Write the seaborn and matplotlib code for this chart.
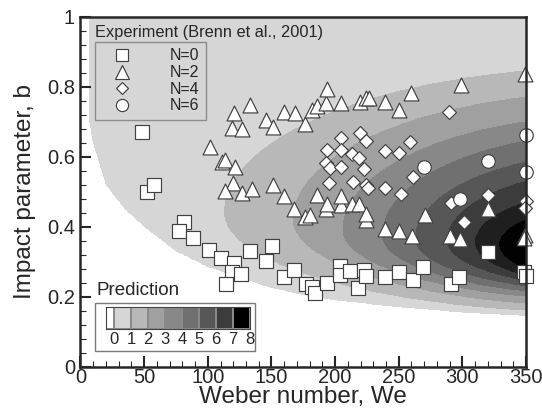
import numpy as np
import pandas as pd
import seaborn as sns
import matplotlib.pyplot as plt
from matplotlib.colors import ListedColormap, BoundaryNorm
from matplotlib.patches import Rectangle
from matplotlib.lines import Line2D
from matplotlib.ticker import MultipleLocator

we_n0 = [48, 52, 58, 81, 77, 88, 101, 110, 120.5, 119, 126, 114, 133.5, 150.5, 145.5,
         160, 168, 177, 182, 184, 194, 204, 204, 212, 218, 223, 224.5, 239, 250.5, 261,
         269, 291, 297.5, 320, 348.5, 350]
b_n0 = [0.67, 0.50, 0.52, 0.415, 0.388, 0.368, 0.334, 0.31, 0.297, 0.27, 0.266, 0.236, 0.33,
        0.344, 0.302, 0.258, 0.276, 0.237, 0.228, 0.212, 0.24, 0.288, 0.262, 0.273, 0.226,
        0.276, 0.26, 0.256, 0.27, 0.249, 0.286, 0.238, 0.256, 0.327, 0.27, 0.26]

we_n2 = [101.5, 111, 113.8, 121.5, 120, 113.8, 126.5, 135, 120.5, 119, 126.5, 133, 145.5,
         151, 160, 168.5, 176, 181.5, 185.5, 192.5, 193.5, 205, 219.5, 224.5, 227, 239.3,
         250, 260, 298.8, 349.5, 151.5, 159.8, 167.7, 176.4, 180.4, 186, 192.7, 194, 205,
         205, 213.2, 219, 224, 224.5, 239, 250.5, 260.5, 270.8, 290.5, 298.3, 320, 349.2,
         348.4]
b_n2 = [0.627, 0.586, 0.591, 0.572, 0.526, 0.502, 0.496, 0.507, 0.726, 0.681, 0.679, 0.747,
        0.705, 0.686, 0.728, 0.725, 0.694, 0.732, 0.744, 0.754, 0.794, 0.753, 0.757, 0.767,
        0.767, 0.757, 0.734, 0.782, 0.806, 0.837, 0.52, 0.488, 0.45, 0.427, 0.435, 0.49,
        0.452, 0.466, 0.463, 0.487, 0.466, 0.465, 0.42, 0.437, 0.393, 0.387, 0.373, 0.435,
        0.374, 0.365, 0.45, 0.377, 0.368]

we_n4 = [194, 205, 204.5, 219.5, 224.5, 239.2, 250, 259, 289.8, 192.7, 196, 204.7, 213.3,
         218.7, 222.7, 194.9, 214.3, 224.5, 226, 239, 251.5, 261, 290.8, 301.2, 320, 350,
         349.2]
b_n4 = [0.62, 0.654, 0.62, 0.668, 0.645, 0.617, 0.612, 0.641, 0.728, 0.583, 0.568, 0.57,
        0.609, 0.597, 0.566, 0.526, 0.527, 0.518, 0.512, 0.51, 0.494, 0.542, 0.469, 0.415,
        0.49, 0.474, 0.455]

we_n6 = [269.5, 320.2, 298.3, 350, 350]
b_n6 = [0.57, 0.587, 0.478, 0.662, 0.556]

# Predicted number of satellites: band edges
band_levels = [1, 2, 3, 4, 5, 6, 7, 8]
band_tip_we = [113, 167, 206, 237, 263, 288, 310, 329]
band_tip_b = [0.44, 0.42, 0.39, 0.375, 0.365, 0.36, 0.355, 0.35]
band_top_b = [0.845, 0.77, 0.70, 0.645, 0.585, 0.53, 0.47, 0.42]   # at We = 350
band_low_b = [0.16, 0.18, 0.20, 0.215, 0.23, 0.245, 0.26, 0.28]   # at We = 350
# lower edge of the predicted region (white below it)
edge_we = [7, 10, 20, 35, 50, 75, 100, 125, 150, 175, 200, 250, 300, 350]
edge_b = [0.70, 0.64, 0.52, 0.45, 0.40, 0.33, 0.285, 0.255, 0.225, 0.205, 0.19, 0.17, 0.155, 0.145]

greys = ['#ffffff', '#d6d6d6', '#b8b8b8', '#a0a0a0', '#888888', '#707070',
         '#575757', '#3c3c3c', '#1f1f1f', '#020202']

sns.set_style("ticks")
plt.rcParams['font.family'] = ['Liberation Sans', 'DejaVu Sans']

fig = plt.figure(figsize=(5.42, 4.08), dpi=100)
ax = fig.add_axes([0.1485, 0.1005, 0.822, 0.859])

# build band field
we_grid = np.linspace(0, 350, 1400)
b_grid = np.linspace(0, 1, 1000)
W, B = np.meshgrid(we_grid, b_grid)
field = np.zeros_like(W)
we_c = 420.0
for lev, tw, tb, top, low in zip(band_levels, band_tip_we, band_tip_b, band_top_b, band_low_b):
    a = we_c - tw
    f350 = np.sqrt(1 - ((we_c - 350) / a) ** 2)
    s = np.where(B > tb, (top - tb) / f350, (tb - low) / f350)
    inside = ((W - we_c) / a) ** 2 + ((B - tb) / s) ** 2 < 1
    field = np.where(inside, np.maximum(field, lev), field)
edge = np.interp(W, edge_we, edge_b)
field = np.where((B < edge) | (W < edge_we[0]), -1, field)

cmap = ListedColormap(greys)
norm = BoundaryNorm(np.arange(-1.5, 9.5, 1), cmap.N)
ax.imshow(field, extent=[0, 350, 0, 1], origin='lower', aspect='auto',
          cmap=cmap, norm=norm, interpolation='nearest', zorder=0)

points = pd.DataFrame({
    'We': we_n0 + we_n2 + we_n4 + we_n6,
    'b': b_n0 + b_n2 + b_n4 + b_n6,
    'N': ['N=0'] * len(we_n0) + ['N=2'] * len(we_n2) + ['N=4'] * len(we_n4) + ['N=6'] * len(we_n6),
})
marker_style = {'N=0': ('s', 90), 'N=2': ('^', 115), 'N=4': ('D', 50), 'N=6': ('o', 95)}
for name, grp in points.groupby('N', sort=False):
    m, s = marker_style[name]
    sns.scatterplot(data=grp, x='We', y='b', marker=m, s=s, color='white',
                    edgecolor='#404040', linewidth=0.85, ax=ax, legend=False,
                    zorder=3, clip_on=False)

ax.set_xlim(0, 350)
ax.set_ylim(0, 1)
ax.xaxis.set_major_locator(MultipleLocator(50))
ax.xaxis.set_minor_locator(MultipleLocator(10))
ax.yaxis.set_minor_locator(MultipleLocator(0.04))
ax.set_yticks([0, 0.2, 0.4, 0.6, 0.8, 1])
ax.set_yticklabels(['0', '0.2', '0.4', '0.6', '0.8', '1'])
ax.tick_params(which='major', direction='in', length=8, width=1.5, labelsize=14.5,
               top=False, right=False)
ax.tick_params(axis='x', which='major', pad=1)
ax.tick_params(axis='y', which='major', pad=4)
ax.tick_params(which='minor', direction='in', length=4, width=0.8, top=False, right=False)
for sp in ax.spines.values():
    sp.set_linewidth(1.8)
    sp.set_zorder(4)
ax.set_xlabel('Weber number, We', fontsize=17.5, labelpad=-1)
ax.set_ylabel('Impact parameter, b', fontsize=17.5, labelpad=8)

# legend for the experiment
ax.text(0.0326, 0.9407, 'Experiment (Brenn et al., 2001)', transform=ax.transAxes,
        fontsize=11.8, va='baseline', ha='left')
handles = [Line2D([], [], ls='', marker=marker_style[n][0], markerfacecolor='white',
                  markeredgecolor='#404040', markeredgewidth=0.85,
                  markersize=np.sqrt(marker_style[n][1]) * 0.9) for n in marker_style]
leg = ax.legend(handles, list(marker_style), loc='upper left', bbox_to_anchor=(0.0326, 0.927),
                borderaxespad=0, fontsize=11.5, frameon=True, fancybox=False,
                handletextpad=1.7, labelspacing=0.1, borderpad=0.4, handlelength=2.6)
leg.get_frame().set_edgecolor('#7a7a7a')
leg.get_frame().set_facecolor('none')
leg.get_frame().set_linewidth(1.0)

# prediction colour key
ax.text(0.037, 0.205, 'Prediction', transform=ax.transAxes, fontsize=13.5,
        va='baseline', ha='left')
ax.add_patch(Rectangle((0.0326, 0.0465), 0.358, 0.137, transform=ax.transAxes,
                       facecolor='white', edgecolor='#7a7a7a', linewidth=1.0, zorder=5))
cax = ax.inset_axes([0.0567, 0.1076, 0.323, 0.0627])
cax.set_zorder(6)
key_edges = [-0.5, 0, 1, 2, 3, 4, 5, 6, 7, 8]
key_vals = np.array([[-1, 0, 1, 2, 3, 4, 5, 6, 7]])
cax.pcolormesh(key_edges, [0, 1], key_vals,
               cmap=ListedColormap(greys[:8] + ['#000000']),
               norm=BoundaryNorm(np.arange(-1.5, 8.5, 1), 9),
               edgecolors='#8a8a8a', linewidth=0.3)
cax.set_xlim(-0.5, 8)
cax.set_ylim(0, 1)
cax.set_yticks([])
cax.set_xticks(range(9))
cax.tick_params(axis='x', length=0, labelsize=12, pad=2)
for sp in cax.spines.values():
    sp.set_linewidth(0.8)
    sp.set_color('#444444')

fig.savefig('out.png', dpi=100)
